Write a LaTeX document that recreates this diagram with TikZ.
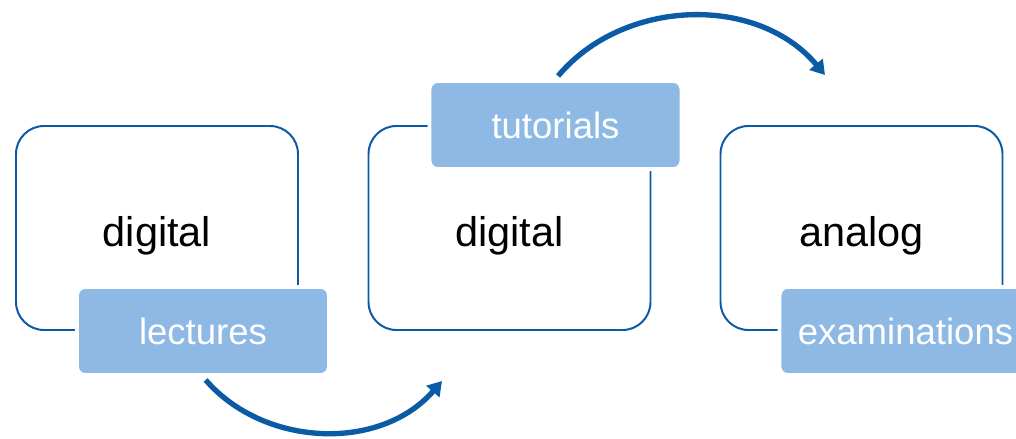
\documentclass[tikz,border=0pt]{standalone}
\usepackage{fontspec}
\setmainfont{Liberation Sans}
\usepackage{xcolor}
\usetikzlibrary{arrows.meta}
\definecolor{boxline}{HTML}{0B5AA6}
\definecolor{tagfill}{HTML}{8EB9E4}

\begin{document}
\begin{tikzpicture}[
  stage/.style={draw=boxline, line width=1.4pt, rounded corners=0.7cm, minimum width=7.05cm, minimum height=5.1cm,
    font=\fontsize{29.5}{35}\selectfont, text height=33pt, text depth=6.2pt},
  tag/.style={fill=tagfill, draw=white, line width=2.8pt, rounded corners=0.2cm, minimum width=6.3cm, minimum height=2.2cm,
    text=white, font=\fontsize{26}{31}\selectfont},
  flow/.style={draw=boxline, line width=3.8pt, -{Triangle[length=0.35cm,width=0.42cm]}, shorten <=0.1cm}
]
\useasboundingbox (0,0) rectangle (25.4,-10.975);
% the three stages
\node[stage] (dig1) at (3.925,-5.7) {digital};
\node[stage] (dig2) at (12.7375,-5.7) {digital};
\node[stage] (ana) at (21.5375,-5.7) {analog};
% tags on the stages
\node[tag] (lec) at ([xshift=1.15cm]dig1.south) {lectures};
\node[tag] (tut) at ([xshift=1.15cm]dig2.north) {tutorials};
\node[tag] (exam) at ([xshift=1.1cm]ana.south) {examinations};
% arrows
\coordinate (e1) at (11.05,-9.525);
\coordinate (e2) at (20.625,-1.875);
\draw[flow] (lec.south) to[out=-49,in=-131] (e1);
\draw[flow] (tut.north) to[out=50,in=130] (e2);
\end{tikzpicture}
\end{document}
